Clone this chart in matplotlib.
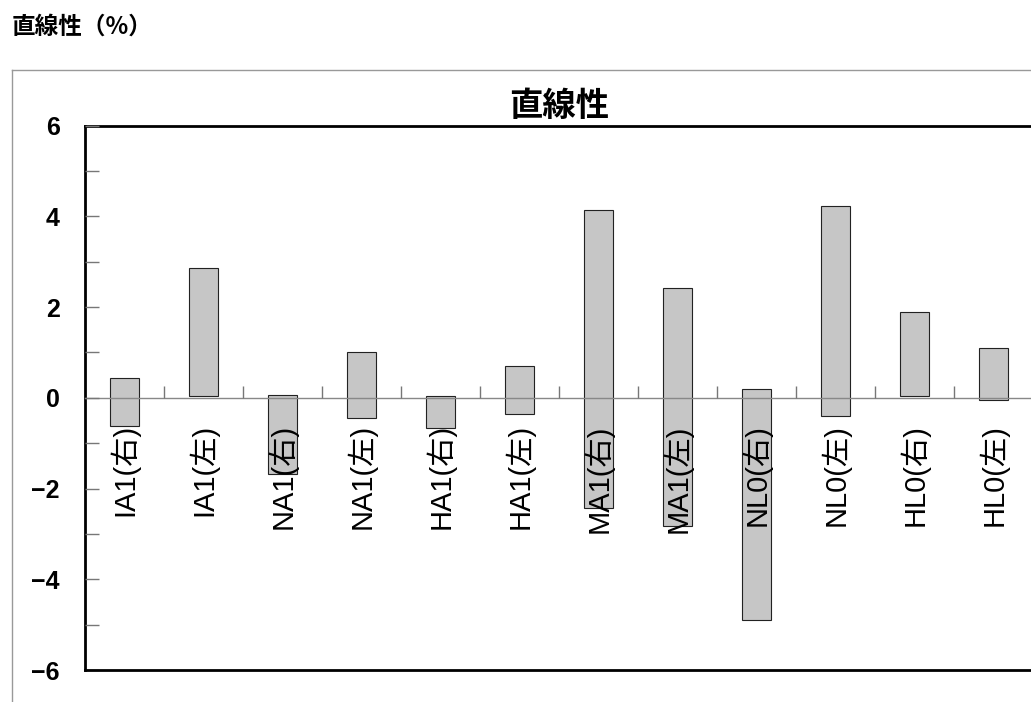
import matplotlib.pyplot as plt
from matplotlib.lines import Line2D
import numpy as np

plt.rcParams['font.family'] = ['Liberation Sans', 'Noto Sans CJK JP', 'DejaVu Sans']

labels = ["IA1(右)", "IA1(左)", "NA1(右)", "NA1(左)", "HA1(右)", "HA1(左)",
          "MA1(右)", "MA1(左)", "NL0(右)", "NL0(左)", "HL0(右)", "HL0(左)"]
low = [-0.62, 0.04, -1.68, -0.44, -0.66, -0.36, -2.43, -2.82, -4.90, -0.40, 0.04, -0.05]
high = [0.43, 2.86, 0.07, 1.00, 0.03, 0.70, 4.14, 2.42, 0.20, 4.22, 1.89, 1.09]

fig = plt.figure(figsize=(10.31, 7.02), dpi=100)
ax = fig.add_axes([85/1031, 32/702, 948/1031, 544.3/702])

x = np.arange(len(labels))
low = np.array(low)
high = np.array(high)
ax.bar(x, high - low, bottom=low, width=0.37, color="#c6c6c6",
       edgecolor="#222222", linewidth=0.8, zorder=1)

ax.set_xlim(-0.5, len(labels) - 0.5)
ax.set_ylim(-6, 6)
ax.set_yticks(np.arange(-6, 7, 2))
ax.set_yticklabels(["\u22126", "\u22124", "\u22122", "0", "2", "4", "6"],
                   fontsize=18, fontweight="bold")
ax.set_yticks(np.arange(-5, 6, 2), minor=True)
ax.tick_params(axis="y", which="both", direction="in", length=10, width=1,
               color="#777777", pad=18)

# category axis sits on the zero line
ax.spines["bottom"].set_position(("data", 0))
ax.spines["bottom"].set_color("#888888")
ax.spines["bottom"].set_linewidth(1)
ax.set_xticks(x)
ax.set_xticklabels(labels, rotation=90, fontsize=21, va="top")
ax.set_xticks(np.arange(0.5, len(labels) - 0.5, 1), minor=True)
ax.tick_params(axis="x", which="major", length=0, pad=19)
ax.tick_params(axis="x", which="minor", direction="in", length=9, width=1,
               color="#777777")
ax.set_axisbelow(False)

ax.spines["right"].set_visible(False)
for s in ("left", "top"):
    ax.spines[s].set_linewidth(2)
    ax.spines[s].set_color("black")
ax.plot([0, 1], [0, 0], transform=ax.transAxes, color="black", lw=2,
        clip_on=False, zorder=3)

ax.set_title("直線性", fontsize=24, fontweight="bold",
             family=["Noto Sans CJK JP"], pad=7)

# outer chart-area frame
fig.add_artist(Line2D([12/1031, 12/1031], [0, 1 - 70/702], color="#999999", lw=1))
fig.add_artist(Line2D([12/1031, 1], [1 - 70/702, 1 - 70/702], color="#999999", lw=1))

fig.text(12/1031, 1 - 27/702, "直線性（%）", fontsize=17, fontweight="bold",
         family=["Noto Sans CJK JP"], va="center", ha="left")

fig.savefig("out.png", dpi=100)
